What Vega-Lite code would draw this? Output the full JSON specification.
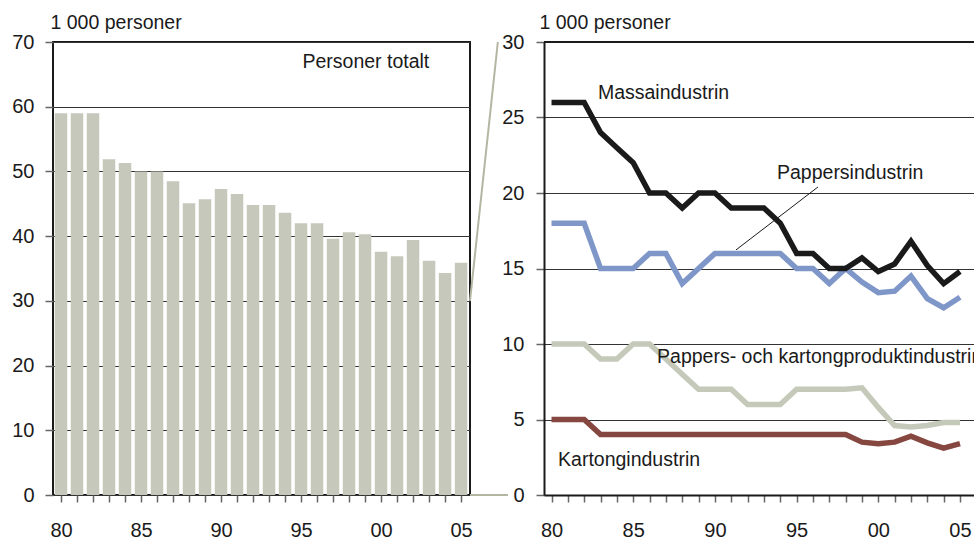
{
  "$schema": "https://vega.github.io/schema/vega-lite/v6.json",
  "padding": {"left": 10, "top": 11, "right": 0, "bottom": 0},
  "background": "white",
  "spacing": 74,
  "bounds": "flush",
  "config": {
    "font": "Liberation Sans",
    "axis": {"labelFont": "Liberation Sans", "labelFontSize": 20, "labelColor": "#1a1a1a", "titleFont": "Liberation Sans", "titleFontSize": 19.5, "titleFontWeight": "normal", "titleColor": "#1a1a1a"},
    "text": {"font": "Liberation Sans", "fontSize": 19.5, "color": "#1a1a1a"}
  },
  "datasets": {
    "total": [
      {"year": 1980, "value": 59.0}, {"year": 1981, "value": 59.0}, {"year": 1982, "value": 59.0},
      {"year": 1983, "value": 51.9}, {"year": 1984, "value": 51.3}, {"year": 1985, "value": 50.0},
      {"year": 1986, "value": 50.0}, {"year": 1987, "value": 48.5}, {"year": 1988, "value": 45.1},
      {"year": 1989, "value": 45.7}, {"year": 1990, "value": 47.3}, {"year": 1991, "value": 46.5},
      {"year": 1992, "value": 44.8}, {"year": 1993, "value": 44.8}, {"year": 1994, "value": 43.6},
      {"year": 1995, "value": 42.0}, {"year": 1996, "value": 42.0}, {"year": 1997, "value": 39.6},
      {"year": 1998, "value": 40.6}, {"year": 1999, "value": 40.3}, {"year": 2000, "value": 37.6},
      {"year": 2001, "value": 36.9}, {"year": 2002, "value": 39.4}, {"year": 2003, "value": 36.2},
      {"year": 2004, "value": 34.3}, {"year": 2005, "value": 35.9}
    ],
    "lines": [
      {"series": "Pappersindustrin", "year": 1980, "value": 18}, {"series": "Pappersindustrin", "year": 1981, "value": 18},
      {"series": "Pappersindustrin", "year": 1982, "value": 18}, {"series": "Pappersindustrin", "year": 1983, "value": 15},
      {"series": "Pappersindustrin", "year": 1984, "value": 15}, {"series": "Pappersindustrin", "year": 1985, "value": 15},
      {"series": "Pappersindustrin", "year": 1986, "value": 16}, {"series": "Pappersindustrin", "year": 1987, "value": 16},
      {"series": "Pappersindustrin", "year": 1988, "value": 14}, {"series": "Pappersindustrin", "year": 1989, "value": 15},
      {"series": "Pappersindustrin", "year": 1990, "value": 16}, {"series": "Pappersindustrin", "year": 1991, "value": 16},
      {"series": "Pappersindustrin", "year": 1992, "value": 16}, {"series": "Pappersindustrin", "year": 1993, "value": 16},
      {"series": "Pappersindustrin", "year": 1994, "value": 16}, {"series": "Pappersindustrin", "year": 1995, "value": 15},
      {"series": "Pappersindustrin", "year": 1996, "value": 15}, {"series": "Pappersindustrin", "year": 1997, "value": 14},
      {"series": "Pappersindustrin", "year": 1998, "value": 15}, {"series": "Pappersindustrin", "year": 1999, "value": 14.1},
      {"series": "Pappersindustrin", "year": 2000, "value": 13.4}, {"series": "Pappersindustrin", "year": 2001, "value": 13.5},
      {"series": "Pappersindustrin", "year": 2002, "value": 14.5}, {"series": "Pappersindustrin", "year": 2003, "value": 13.0},
      {"series": "Pappersindustrin", "year": 2004, "value": 12.4}, {"series": "Pappersindustrin", "year": 2005, "value": 13.1},
      {"series": "Massaindustrin", "year": 1980, "value": 26}, {"series": "Massaindustrin", "year": 1981, "value": 26},
      {"series": "Massaindustrin", "year": 1982, "value": 26}, {"series": "Massaindustrin", "year": 1983, "value": 24},
      {"series": "Massaindustrin", "year": 1984, "value": 23}, {"series": "Massaindustrin", "year": 1985, "value": 22},
      {"series": "Massaindustrin", "year": 1986, "value": 20}, {"series": "Massaindustrin", "year": 1987, "value": 20},
      {"series": "Massaindustrin", "year": 1988, "value": 19}, {"series": "Massaindustrin", "year": 1989, "value": 20},
      {"series": "Massaindustrin", "year": 1990, "value": 20}, {"series": "Massaindustrin", "year": 1991, "value": 19},
      {"series": "Massaindustrin", "year": 1992, "value": 19}, {"series": "Massaindustrin", "year": 1993, "value": 19},
      {"series": "Massaindustrin", "year": 1994, "value": 18}, {"series": "Massaindustrin", "year": 1995, "value": 16},
      {"series": "Massaindustrin", "year": 1996, "value": 16}, {"series": "Massaindustrin", "year": 1997, "value": 15},
      {"series": "Massaindustrin", "year": 1998, "value": 15}, {"series": "Massaindustrin", "year": 1999, "value": 15.7},
      {"series": "Massaindustrin", "year": 2000, "value": 14.8}, {"series": "Massaindustrin", "year": 2001, "value": 15.3},
      {"series": "Massaindustrin", "year": 2002, "value": 16.8}, {"series": "Massaindustrin", "year": 2003, "value": 15.2},
      {"series": "Massaindustrin", "year": 2004, "value": 14.0}, {"series": "Massaindustrin", "year": 2005, "value": 14.8},
      {"series": "Pappers- och kartongproduktindustrin", "year": 1980, "value": 10}, {"series": "Pappers- och kartongproduktindustrin", "year": 1981, "value": 10},
      {"series": "Pappers- och kartongproduktindustrin", "year": 1982, "value": 10}, {"series": "Pappers- och kartongproduktindustrin", "year": 1983, "value": 9},
      {"series": "Pappers- och kartongproduktindustrin", "year": 1984, "value": 9}, {"series": "Pappers- och kartongproduktindustrin", "year": 1985, "value": 10},
      {"series": "Pappers- och kartongproduktindustrin", "year": 1986, "value": 10}, {"series": "Pappers- och kartongproduktindustrin", "year": 1987, "value": 9},
      {"series": "Pappers- och kartongproduktindustrin", "year": 1988, "value": 8}, {"series": "Pappers- och kartongproduktindustrin", "year": 1989, "value": 7},
      {"series": "Pappers- och kartongproduktindustrin", "year": 1990, "value": 7}, {"series": "Pappers- och kartongproduktindustrin", "year": 1991, "value": 7},
      {"series": "Pappers- och kartongproduktindustrin", "year": 1992, "value": 6}, {"series": "Pappers- och kartongproduktindustrin", "year": 1993, "value": 6},
      {"series": "Pappers- och kartongproduktindustrin", "year": 1994, "value": 6}, {"series": "Pappers- och kartongproduktindustrin", "year": 1995, "value": 7},
      {"series": "Pappers- och kartongproduktindustrin", "year": 1996, "value": 7}, {"series": "Pappers- och kartongproduktindustrin", "year": 1997, "value": 7},
      {"series": "Pappers- och kartongproduktindustrin", "year": 1998, "value": 7}, {"series": "Pappers- och kartongproduktindustrin", "year": 1999, "value": 7.1},
      {"series": "Pappers- och kartongproduktindustrin", "year": 2000, "value": 5.8}, {"series": "Pappers- och kartongproduktindustrin", "year": 2001, "value": 4.6},
      {"series": "Pappers- och kartongproduktindustrin", "year": 2002, "value": 4.5}, {"series": "Pappers- och kartongproduktindustrin", "year": 2003, "value": 4.6},
      {"series": "Pappers- och kartongproduktindustrin", "year": 2004, "value": 4.8}, {"series": "Pappers- och kartongproduktindustrin", "year": 2005, "value": 4.8},
      {"series": "Kartongindustrin", "year": 1980, "value": 5}, {"series": "Kartongindustrin", "year": 1981, "value": 5},
      {"series": "Kartongindustrin", "year": 1982, "value": 5}, {"series": "Kartongindustrin", "year": 1983, "value": 4},
      {"series": "Kartongindustrin", "year": 1984, "value": 4}, {"series": "Kartongindustrin", "year": 1985, "value": 4},
      {"series": "Kartongindustrin", "year": 1986, "value": 4}, {"series": "Kartongindustrin", "year": 1987, "value": 4},
      {"series": "Kartongindustrin", "year": 1988, "value": 4}, {"series": "Kartongindustrin", "year": 1989, "value": 4},
      {"series": "Kartongindustrin", "year": 1990, "value": 4}, {"series": "Kartongindustrin", "year": 1991, "value": 4},
      {"series": "Kartongindustrin", "year": 1992, "value": 4}, {"series": "Kartongindustrin", "year": 1993, "value": 4},
      {"series": "Kartongindustrin", "year": 1994, "value": 4}, {"series": "Kartongindustrin", "year": 1995, "value": 4},
      {"series": "Kartongindustrin", "year": 1996, "value": 4}, {"series": "Kartongindustrin", "year": 1997, "value": 4},
      {"series": "Kartongindustrin", "year": 1998, "value": 4}, {"series": "Kartongindustrin", "year": 1999, "value": 3.5},
      {"series": "Kartongindustrin", "year": 2000, "value": 3.4}, {"series": "Kartongindustrin", "year": 2001, "value": 3.5},
      {"series": "Kartongindustrin", "year": 2002, "value": 3.9}, {"series": "Kartongindustrin", "year": 2003, "value": 3.45},
      {"series": "Kartongindustrin", "year": 2004, "value": 3.1}, {"series": "Kartongindustrin", "year": 2005, "value": 3.4}
    ],
    "labels": [
      {"label": "Massaindustrin", "year": 1982.84, "value": 26.62},
      {"label": "Pappersindustrin", "year": 1993.8, "value": 21.32},
      {"label": "Pappers- och kartongproduktindustrin", "year": 1986.46, "value": 9.14},
      {"label": "Kartongindustrin", "year": 1980.4, "value": 2.32}
    ]
  },
  "hconcat": [
    {
      "width": 417,
      "height": 453,
      "view": {"stroke": "#1a1a1a", "strokeWidth": 2},
      "layer": [
        {
          "data": {"name": "total"},
          "mark": {"type": "bar", "width": 12.5, "color": "#c5c8bb"},
          "encoding": {
            "x": {"field": "year", "type": "quantitative",
              "scale": {"domain": [1979.5, 2005.56], "nice": false, "zero": false, "padding": 0},
              "axis": {"values": [1980,1981,1982,1983,1984,1985,1986,1987,1988,1989,1990,1991,1992,1993,1994,1995,1996,1997,1998,1999,2000,2001,2002,2003,2004,2005],
                "tickCount": 40,
                "labelExpr": "datum.value % 5 === 0 ? substring(toString(datum.value), 2, 4) : ''",
                "title": null, "grid": false, "domain": false, "tickSize": 7, "tickColor": "#666", "tickWidth": 1.5,
                "labelPadding": 18, "labelOverlap": false, "labelFlush": false}},
            "y": {"field": "value", "type": "quantitative",
              "scale": {"domain": [0, 70], "nice": false},
              "axis": {"values": [0,10,20,30,40,50,60,70], "tickCount": 20, "title": "1 000 personer", "titleAngle": 0, "titleAlign": "left", "titleBaseline": "alphabetic", "titleX": -3, "titleY": -14,
                "grid": true, "gridColor": "#333", "gridWidth": 1, "domain": false, "tickSize": 8, "tickColor": "#666", "tickWidth": 1.5, "labelPadding": 11}}
          }
        },
        {
          "data": {"values": [{"label": "Personer totalt", "year": 1995.09, "value": 66.9}]},
          "mark": {"type": "text", "align": "left", "baseline": "middle"},
          "encoding": {
            "x": {"field": "year", "type": "quantitative"},
            "y": {"field": "value", "type": "quantitative"},
            "text": {"field": "label"}
          }
        },
        {
          "data": {"values": [{"x": 2005.56, "y": 30, "x2": 2007.3, "y2": 70}, {"x": 2005.56, "y": 0, "x2": 2007.93, "y2": 0}]},
          "mark": {"type": "rule", "color": "#b5b6a2", "strokeWidth": 2},
          "encoding": {
            "x": {"field": "x", "type": "quantitative"},
            "y": {"field": "y", "type": "quantitative"},
            "x2": {"field": "x2"},
            "y2": {"field": "y2"}
          }
        }
      ]
    },
    {
      "width": 432,
      "height": 453,
      "view": {"stroke": null},
      "layer": [
        {
          "data": {"name": "lines"},
          "mark": {"type": "line", "strokeWidth": 5.5, "strokeJoin": "miter"},
          "encoding": {
            "x": {"field": "year", "type": "quantitative",
              "scale": {"domain": [1979.54, 2005.98], "nice": false, "zero": false},
              "axis": {"values": [1980,1981,1982,1983,1984,1985,1986,1987,1988,1989,1990,1991,1992,1993,1994,1995,1996,1997,1998,1999,2000,2001,2002,2003,2004,2005],
                "tickCount": 40,
                "labelExpr": "datum.value % 5 === 0 ? substring(toString(datum.value), 2, 4) : ''",
                "title": null, "grid": false, "domain": true, "domainColor": "#1a1a1a", "domainWidth": 2, "tickSize": 7, "tickColor": "#666", "tickWidth": 1.5,
                "labelPadding": 18, "labelOverlap": false, "labelFlush": false}},
            "y": {"field": "value", "type": "quantitative",
              "scale": {"domain": [0, 30], "nice": false},
              "axis": {"values": [0,5,10,15,20,25,30], "tickCount": 20, "title": "1 000 personer", "titleAngle": 0, "titleAlign": "left", "titleBaseline": "alphabetic", "titleX": -5, "titleY": -14,
                "grid": true, "gridColor": "#333", "gridWidth": 1, "domain": true, "domainColor": "#1a1a1a", "domainWidth": 2, "tickSize": 8, "tickColor": "#666", "tickWidth": 1.5, "labelPadding": 12}},
            "color": {"field": "series", "type": "nominal", "legend": null,
              "scale": {"domain": ["Pappersindustrin", "Massaindustrin", "Pappers- och kartongproduktindustrin", "Kartongindustrin"],
                "range": ["#7f97c8", "#1a1a1a", "#c5c9ba", "#85473f"]}},
            "order": {"field": "year"}
          }
        },
        {
          "data": {"values": [{"y": 30}]},
          "mark": {"type": "rule", "color": "#1a1a1a", "strokeWidth": 2},
          "encoding": {
            "y": {"field": "y", "type": "quantitative"}
          }
        },
        {
          "data": {"values": [{"x": 1991.29, "y": 16.23, "x2": 1996.31, "y2": 20.4}]},
          "mark": {"type": "rule", "color": "#1a1a1a", "strokeWidth": 1},
          "encoding": {
            "x": {"field": "x", "type": "quantitative"},
            "y": {"field": "y", "type": "quantitative"},
            "x2": {"field": "x2"},
            "y2": {"field": "y2"}
          }
        },
        {
          "data": {"name": "labels"},
          "mark": {"type": "text", "align": "left", "baseline": "middle", "clip": true},
          "encoding": {
            "x": {"field": "year", "type": "quantitative"},
            "y": {"field": "value", "type": "quantitative"},
            "text": {"field": "label"}
          }
        }
      ]
    }
  ]
}
